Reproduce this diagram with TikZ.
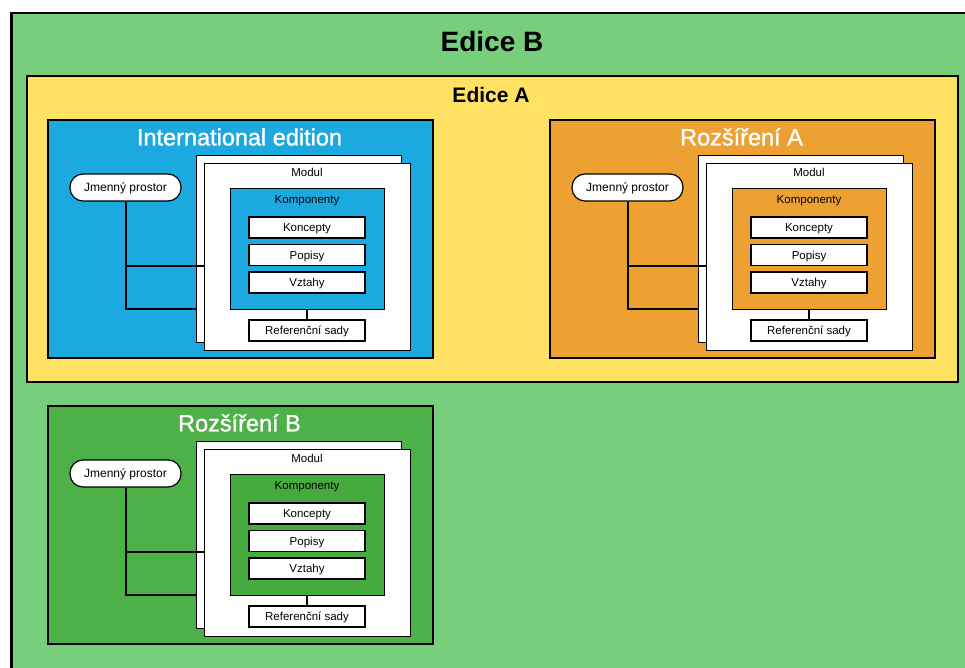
\documentclass[tikz,border=0pt]{standalone}
\usepackage{fontspec}
\setmainfont{Liberation Sans}
\newfontfamily\titlefont[FakeBold=1.2]{Liberation Sans}
\usetikzlibrary{calc}

\definecolor{edbgreen}{RGB}{119,206,123}
\definecolor{edayellow}{RGB}{255,226,100}
\definecolor{intblue}{RGB}{27,169,224}
\definecolor{extorange}{RGB}{236,161,50}
\definecolor{extgreen}{RGB}{77,176,72}
\definecolor{extgreendark}{RGB}{70,170,62}

\tikzset{
  region/.style={draw=black, line width=2pt, anchor=north west, inner sep=0pt},
  card/.style={draw=black, fill=white, line width=1.2pt, anchor=north west, inner sep=0pt},
  smalltext/.style={font=\fontsize{11.5}{13}\selectfont, text height=8.3pt, text depth=0pt},
  itembox/.style={smalltext, draw=black, fill=white, line width=1.1pt, minimum width=116pt,
    minimum height=21pt, inner sep=0pt},
  label/.style={smalltext, inner sep=0pt},
  pill/.style={draw=black, fill=white, line width=1.2pt, rounded corners=13pt,
    minimum width=111pt, minimum height=27pt, inner sep=0pt,
    font=\fontsize{12}{14}\selectfont, text height=8.6pt, text depth=0pt},
  title/.style={text=white, font=\titlefont\fontsize{23.5}{28}\selectfont, inner sep=0pt,
    text height=16.8pt, text depth=0pt},
  wire/.style={draw=black, line width=2pt},
}

% One edition block: #1,#2 top-left corner; #3 fill; #4 inner fill; #5 title; #6 name prefix
\newcommand\editionblock[6]{%
  \begin{scope}[shift={(#1,#2)}]
    \node[region, fill=#3, minimum width=385pt, minimum height=238pt] (#6box) at (0,0) {};
    \node[title] (#6title) at (192.5,18) {#5};
    \node[card, minimum width=205pt, minimum height=187pt] (#6mback) at (149,36) {};
    \node[card, minimum width=206pt, minimum height=187pt] (#6mfront) at (157,44) {};
    \node[label] (#6modul) at (260,53) {Modul};
    \node[region, line width=1.2pt, fill=#4, minimum width=154pt, minimum height=121pt] (#6komp) at (183,69) {};
    \node[label] (#6komplabel) at (260,80) {Komponenty};
    \node[itembox] (#6koncepty) at (260,108.5) {Koncepty};
    \node[itembox] (#6popisy) at (260,136) {Popisy};
    \node[itembox] (#6vztahy) at (260,163.5) {Vztahy};
    \node[itembox] (#6ref) at (260,211.5) {Referenční sady};
    \node[pill] (#6jp) at (78.5,68.5) {Jmenný prostor};
    \draw[wire] (#6ref.north) -- (#6ref.north |- #6komp.south);
    \draw[wire] (#6jp.south) |- ($(#6mback.south west)+(0,-34)$);
    \draw[wire] ($(#6jp.south)+(0,64)$) -- ($(#6jp.south -| #6mfront.west)+(0,64)$);
  \end{scope}%
}

\begin{document}
\begin{tikzpicture}[x=1pt, y=-1pt]
  \useasboundingbox (0,0) rectangle (965,668);
  \fill[white] (0,0) rectangle (965,668);

  % Edice B
  \node[region, line width=2.5pt, fill=edbgreen, minimum width=980pt, minimum height=680pt] (edb) at (10,12) {};
  \node[font=\bfseries\fontsize{28}{32}\selectfont, inner sep=0pt, text height=20pt, text depth=0pt] (edbtitle) at (492,42) {Edice B};

  % Edice A
  \node[region, fill=edayellow, minimum width=931pt, minimum height=306pt] (eda) at (26,75) {};
  \node[font=\bfseries\fontsize{21}{25}\selectfont, inner sep=0pt, text height=15pt, text depth=0pt] (edatitle) at (491,95) {Edice A};

  \editionblock{47}{119}{intblue}{intblue}{International edition}{ie}
  \editionblock{549}{119}{extorange}{extorange}{Rozšíření A}{ra}
  \editionblock{47}{405}{extgreen}{extgreendark}{Rozšíření B}{rb}
\end{tikzpicture}
\end{document}
